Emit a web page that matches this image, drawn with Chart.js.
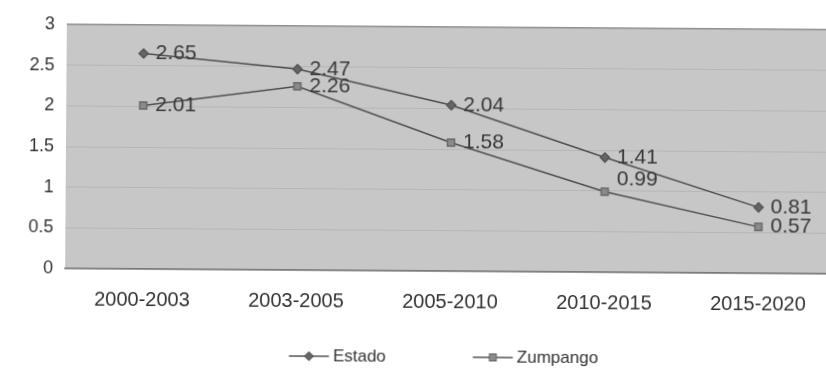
<!DOCTYPE html>
<html>
<head>
<meta charset="utf-8">
<script src="https://cdn.jsdelivr.net/npm/chart.js@4"></script>
<style>
  html, body { margin: 0; padding: 0; background: #fff; }
  #marco { width: 826px; height: 371px; overflow: hidden; position: relative; }
  #grafica { position: absolute; left: 0; top: 0; transform: rotate(0.4deg); transform-origin: 0 0; }
</style>
</head>
<body>
<div id="marco"><canvas id="grafica" width="890" height="371"></canvas></div>
<script>
const periodos = ['2000-2003', '2003-2005', '2005-2010', '2010-2015', '2015-2020']
const estado = [2.65, 2.47, 2.04, 1.41, 0.81]
const zumpango = [2.01, 2.26, 1.58, 0.99, 0.57]

const fuente = "'Liberation Sans', Arial, sans-serif"

// fondo gris del area de trazado
const fondoArea = {
   id: 'fondoArea',
   beforeDraw: (chart) => {
      const {ctx, chartArea: a} = chart
      ctx.save()
      ctx.fillStyle = '#c7c7c7'
      ctx.fillRect(a.left, a.top, a.right - a.left, a.bottom - a.top)
      ctx.restore()
   }
}

// etiquetas con el valor a la derecha de cada punto
const etiquetas = {
   id: 'etiquetas',
   afterDatasetsDraw: (chart) => {
      const ctx = chart.ctx
      ctx.save()
      ctx.font = '21px ' + fuente
      ctx.fillStyle = '#383838'
      ctx.textBaseline = 'middle'
      chart.data.datasets.forEach((ds, i) => {
         chart.getDatasetMeta(i).data.forEach((p, j) => {
            // el 0.99 va un poco arriba para no tapar la linea
            const dy = (i === 1 && j === 3) ? -12 : 0
            ctx.fillText(ds.data[j].toFixed(2), p.x + 12, p.y + dy)
         })
      })
      ctx.restore()
   }
}

// leyenda abajo: linea con marcador y nombre
const leyenda = {
   id: 'leyenda',
   afterDraw: (chart) => {
      const {ctx, chartArea: a} = chart
      ctx.save()
      ctx.font = '17px ' + fuente
      const items = chart.data.datasets.map(ds => ({ds, w: 44 + ctx.measureText(ds.label).width}))
      const hueco = 87
      const total = items.reduce((s, it) => s + it.w, 0) + hueco * (items.length - 1)
      let x = (a.left + a.right) / 2 - 6 - total / 2
      const y = 354
      items.forEach(it => {
         ctx.strokeStyle = '#555'
         ctx.lineWidth = 1.5
         ctx.beginPath()
         ctx.moveTo(x, y)
         ctx.lineTo(x + 40, y)
         ctx.stroke()
         Chart.helpers.drawPoint(ctx, {
            pointStyle: it.ds.pointStyle,
            radius: it.ds.pointRadius - 0.5,
            borderWidth: 1
         }, x + 20, y)
         ctx.fillStyle = it.ds.pointBackgroundColor
         ctx.fill()
         ctx.fillStyle = '#333'
         ctx.textBaseline = 'middle'
         ctx.fillText(it.ds.label, x + 44, y)
         x += it.w + hueco
      })
      ctx.restore()
   }
}

new Chart(document.getElementById('grafica').getContext('2d'), {
   type: 'line',
   data: {
      labels: periodos,
      datasets: [{
         label: 'Estado',
         data: estado,
         borderColor: '#4f4f4f',
         borderWidth: 1.5,
         pointStyle: 'rectRot',
         pointRadius: 4.5,
         pointBackgroundColor: '#666',
         pointBorderColor: '#555',
         tension: 0
      }, {
         label: 'Zumpango',
         data: zumpango,
         borderColor: '#4f4f4f',
         borderWidth: 1.5,
         pointStyle: 'rect',
         pointRadius: 5,
         pointBackgroundColor: '#8a8a8a',
         pointBorderColor: '#6a6a6a',
         tension: 0
      }]
   },
   options: {
      responsive: false,
      animation: false,
      devicePixelRatio: 1,
      layout: { padding: { top: 24, right: 53, left: 0, bottom: 0 } },
      plugins: {
         legend: { display: false },
         tooltip: { enabled: false }
      },
      scales: {
         x: {
            offset: true,
            grid: { display: false, drawTicks: false },
            border: { display: true, color: '#7a7a7a', width: 1.5 },
            ticks: { font: { family: fuente, size: 20 }, color: '#333', padding: 19 },
            afterFit: (s) => { s.height = 103 }
         },
         y: {
            min: 0,
            max: 3,
            ticks: {
               stepSize: 0.5,
               font: { family: fuente, size: 18 },
               color: '#333',
               padding: 12,
               callback: (v) => String(v)
            },
            grid: {
               drawTicks: false,
               color: (c) => c.tick && c.tick.value === 3 ? '#8f8f8f' : '#b6b6b6',
               lineWidth: (c) => c.tick && c.tick.value === 3 ? 1.5 : 1
            },
            border: { display: false },
            afterFit: (s) => { s.width = 67 }
         }
      }
   },
   plugins: [fondoArea, etiquetas, leyenda]
})
</script>
</body>
</html>
